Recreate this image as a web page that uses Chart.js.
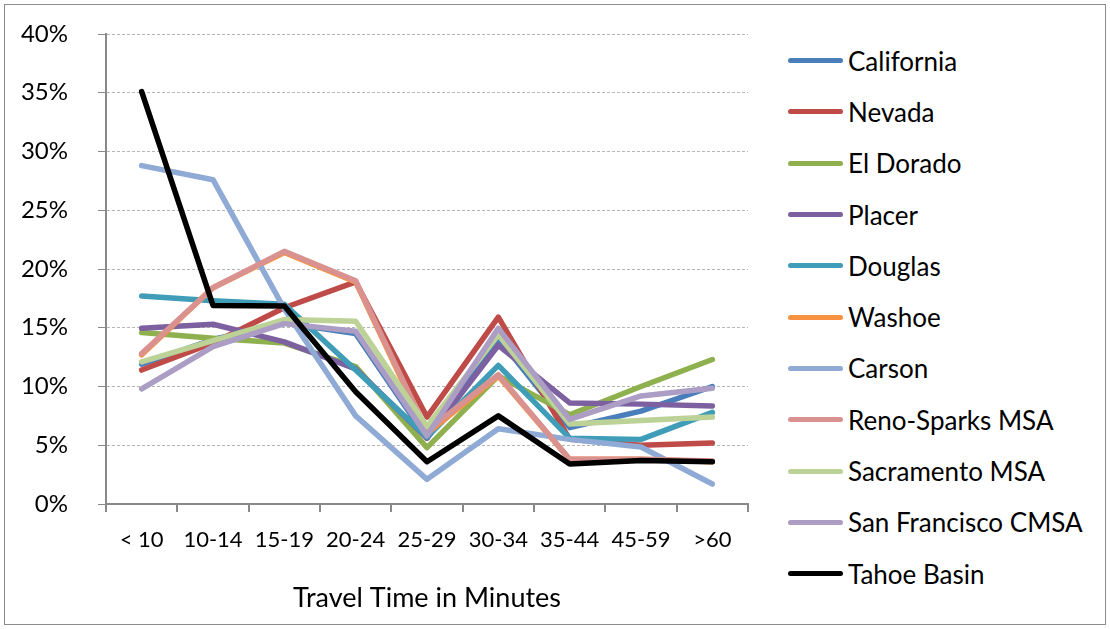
<!DOCTYPE html>
<html>
<head>
<meta charset="utf-8">
<script src="https://cdn.jsdelivr.net/npm/chart.js@4.4.1/dist/chart.umd.min.js"></script>
<style>
  html, body { margin: 0; padding: 0; background: #fff; }
  #wrap { position: relative; width: 1110px; height: 629px; }
  #chart { position: absolute; left: 0; top: 0; }
  #frame { position: absolute; left: 4px; top: 4px; right: 4px; bottom: 4px; border: 1px solid #8c8c8c; pointer-events: none; }
  #legend { position: absolute; left: 788px; top: 35px; margin: 0; padding: 0; list-style: none;
            font-family: Lato, sans-serif; font-size: 26px; color: #000; }
  #legend li { display: flex; align-items: center; height: 51.3px; white-space: nowrap; }
  #legend .swatch { display: inline-block; width: 55px; height: 5px; border-radius: 3px; margin-right: 5px; }
</style>
</head>
<body>
<div id="wrap">
  <canvas id="chart" width="760" height="629"></canvas>
  <ul id="legend"></ul>
  <div id="frame"></div>
</div>
<script>
// travel time buckets (minutes)
const categories = ["< 10", "10-14", "15-19", "20-24", "25-29", "30-34", "35-44", "45-59", ">60"];

// share of commuters, in percent
const california   = [11.9, 14.0, 15.4, 14.5, 5.6, 14.1, 6.5, 7.9, 10.0];
const nevada       = [11.4, 13.7, 16.7, 18.9, 7.4, 15.9, 5.5, 5.0, 5.2];
const elDorado     = [14.6, 14.1, 13.7, 11.7, 4.8, 10.9, 7.6, 10.0, 12.3];
const placer       = [14.95, 15.3, 13.8, 11.5, 5.6, 13.5, 8.6, 8.5, 8.35];
const douglas      = [17.7, 17.3, 17.0, 11.4, 5.7, 11.8, 5.6, 5.5, 7.8];
const washoe       = [12.7, 18.4, 21.4, 18.9, 6.0, 10.9, 3.8, 3.8, 3.6];
const carson       = [28.8, 27.6, 16.6, 7.5, 2.1, 6.4, 5.5, 4.85, 1.7];
const renoSparks   = [12.8, 18.4, 21.5, 19.0, 6.2, 11.0, 3.8, 3.8, 3.65];
const sacramento   = [12.1, 13.9, 15.7, 15.55, 6.6, 14.4, 6.8, 7.1, 7.4];
const sanFrancisco = [9.8, 13.4, 15.35, 14.7, 5.8, 14.95, 7.2, 9.2, 9.85];
const tahoeBasin   = [35.1, 16.9, 16.85, 9.55, 3.6, 7.5, 3.4, 3.7, 3.6];

const yTicks = [0, 5, 10, 15, 20, 25, 30, 35, 40];

const series = [
  { label: "California", data: california, color: "#4A7EBB" },
  { label: "Nevada", data: nevada, color: "#BE4B48" },
  { label: "El Dorado", data: elDorado, color: "#8FB04E" },
  { label: "Placer", data: placer, color: "#7D60A0" },
  { label: "Douglas", data: douglas, color: "#3F9DB8" },
  { label: "Washoe", data: washoe, color: "#F69240" },
  { label: "Carson", data: carson, color: "#8FAAD4" },
  { label: "Reno-Sparks MSA", data: renoSparks, color: "#D9928F" },
  { label: "Sacramento MSA", data: sacramento, color: "#BCD297" },
  { label: "San Francisco CMSA", data: sanFrancisco, color: "#AB9DC4" },
  { label: "Tahoe Basin", data: tahoeBasin, color: "#000000" }
];

const font = "Lato";

// later series sit on top, like the original
const datasets = series.map((s, i) => ({
  label: s.label,
  data: s.data,
  borderColor: s.color,
  backgroundColor: s.color,
  borderWidth: 5.5,
  borderCapStyle: "round",
  borderJoinStyle: "round",
  pointRadius: 0,
  pointHoverRadius: 0,
  tension: 0,
  order: series.length - 1 - i
}));

const chart = new Chart(document.getElementById("chart"), {
  type: "line",
  data: { labels: categories, datasets },
  options: {
    responsive: false,
    animation: false,
    layout: { padding: { top: 34, left: 0, right: 12, bottom: 28 } },
    plugins: {
      tooltip: { enabled: false },
      legend: { display: false }
    },
    scales: {
      x: {
        offset: true,
        grid: { offset: true, drawOnChartArea: false, tickLength: 8, color: "#898989", lineWidth: 2 },
        border: { color: "#898989", width: 2 },
        ticks: { color: "#000", padding: 15, font: { family: font, size: 22 }, maxRotation: 0 },
        title: {
          display: true,
          text: "Travel Time in Minutes",
          color: "#000",
          font: { family: font, size: 27 },
          padding: { top: 0, bottom: -13 }
        },
        afterFit: (s) => { s.height = 97; }
      },
      y: {
        min: 0,
        max: 40,
        afterBuildTicks: (s) => { s.ticks = yTicks.map(v => ({ value: v })); },
        grid: { color: "#b5b5b5", tickColor: "#898989", tickLength: 8, lineWidth: 1 },
        border: { color: "#898989", width: 2, dash: [3, 2] },
        ticks: {
          color: "#000",
          padding: 30,
          font: { family: font, size: 24 },
          callback: (v) => v + "%"
        },
        // fixed axis width; label padding must not push the plot down
        afterFit: (s) => { s.width = 106; s.paddingTop = 0; s.paddingBottom = 0; }
      }
    }
  }
});

// legend in legend order (California first), built from the chart's datasets
document.getElementById("legend").innerHTML = chart.data.datasets.map(ds => `
  <li><span class="swatch" style="background:${ds.borderColor}"></span><span>${ds.label}</span></li>
`).join("");
</script>
</body>
</html>
